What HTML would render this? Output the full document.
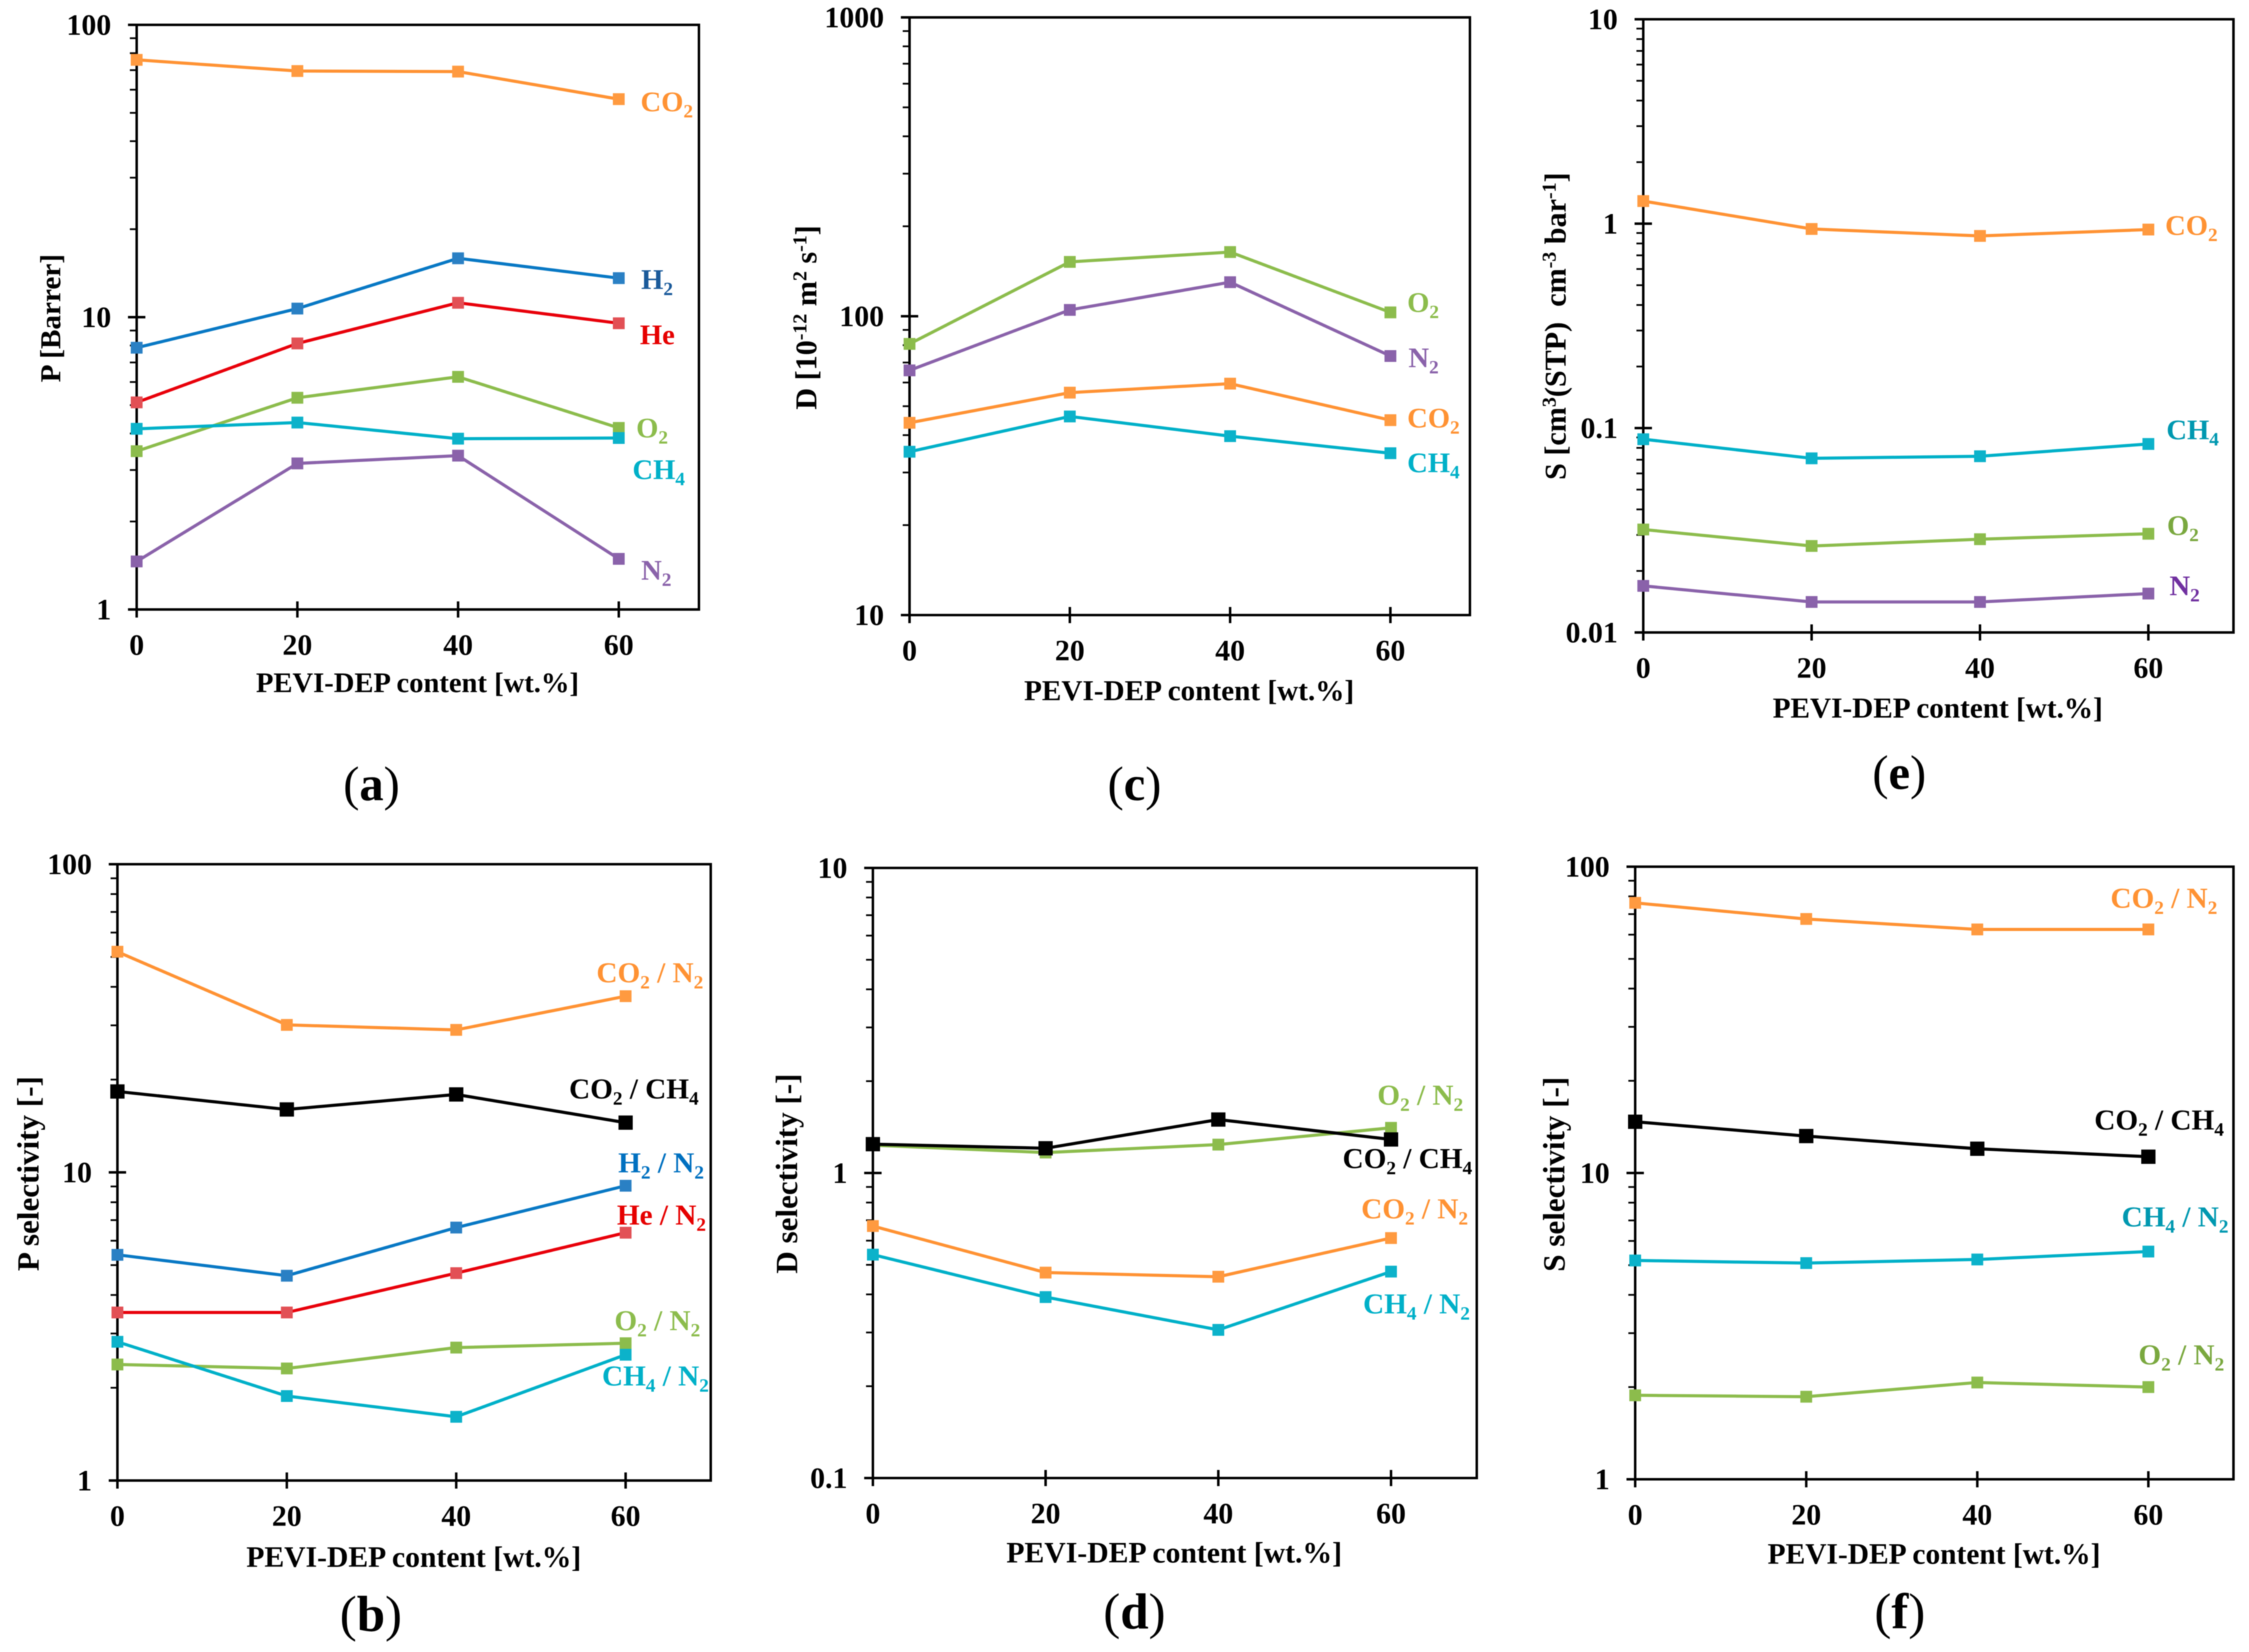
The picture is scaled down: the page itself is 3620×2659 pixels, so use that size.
<!DOCTYPE html>
<html lang="en">
<head>
<meta charset="utf-8">
<title>PEVI-DEP content: permeability, diffusivity and solubility</title>
<style>
html,body{margin:0;padding:0;background:#fff;}
#figure{display:block;width:3620px;height:2659px;filter:blur(0.7px);}
#figure text{font-family:"Liberation Serif","Noto Serif CJK SC",serif;font-weight:bold;}
.xt{font-size:47px;text-anchor:middle;fill:#000;}
.yt{font-size:48.5px;text-anchor:middle;fill:#000;}
.s{font-size:46px;}
.s2{font-size:47px;}
.s tspan.b,.s2 tspan.b{font-size:31px;}
.l{font-size:78px;text-anchor:middle;fill:#000;}
.l2{font-size:82px;text-anchor:middle;fill:#000;}
.l .p,.l2 .p{font-weight:normal;}
</style>
</head>
<body>
<svg id="figure" xmlns="http://www.w3.org/2000/svg" width="3620" height="2659" viewBox="0 0 3620 2659">
  <rect x="0" y="0" width="3620" height="2659" fill="#fff"/>

  <g id="panel-a">
    <text class="yt" style="font-size:47px" transform="translate(97,512) rotate(-90)">P [Barrer]</text>
    <text class="xt" style="font-size:46px" x="672" y="1114">PEVI-DEP content [wt.%]</text>
    <text class="s" x="1031" y="179" fill="#ff9233">CO<tspan class="b" dy="10">2</tspan></text>
    <text class="s" x="1032" y="465" fill="#1a5a9a">H<tspan class="b" dy="10">2</tspan></text>
    <text class="s" x="1030" y="554" fill="#e60000">He</text>
    <text class="s" x="1024" y="704" fill="#8cbc4c">O<tspan class="b" dy="10">2</tspan></text>
    <text class="s" x="1018" y="771" fill="#00b0c8">CH<tspan class="b" dy="10">4</tspan></text>
    <text class="s" x="1032" y="933" fill="#8a62aa">N<tspan class="b" dy="10">2</tspan></text>
    <text class="l" x="598" y="1288"><tspan class="p">(</tspan>a<tspan class="p">)</tspan></text>
  </g>

  <g id="panel-c">
    <text class="yt" transform="translate(1314,511) rotate(-90)">D [10<tspan font-size="32" dy="-16">-12</tspan><tspan dy="16"> m</tspan><tspan font-size="32" dy="-16">2</tspan><tspan dy="16"> s</tspan><tspan font-size="32" dy="-16">-1</tspan><tspan dy="16">]</tspan></text>
    <text class="xt" x="1914" y="1127">PEVI-DEP content [wt.%]</text>
    <text class="s" x="2265" y="502" fill="#8cbc4c">O<tspan class="b" dy="10">2</tspan></text>
    <text class="s" x="2267" y="591" fill="#8a62aa">N<tspan class="b" dy="10">2</tspan></text>
    <text class="s" x="2265" y="688" fill="#ff9233">CO<tspan class="b" dy="10">2</tspan></text>
    <text class="s" x="2265" y="760" fill="#00b0c8">CH<tspan class="b" dy="10">4</tspan></text>
    <text class="l" x="1826" y="1288"><tspan class="p">(</tspan>c<tspan class="p">)</tspan></text>
  </g>

  <g id="panel-e">
    <text class="yt" transform="translate(2520,525) rotate(-90)" xml:space="preserve">S [cm<tspan font-size="32" dy="-16">3</tspan><tspan dy="16">(STP)  cm</tspan><tspan font-size="32" dy="-16">-3</tspan><tspan dy="16"> bar</tspan><tspan font-size="32" dy="-16">-1</tspan><tspan dy="16">]</tspan></text>
    <text class="xt" x="3119" y="1155">PEVI-DEP content [wt.%]</text>
    <text class="s" x="3485" y="378" fill="#ff9233">CO<tspan class="b" dy="10">2</tspan></text>
    <text class="s" x="3487" y="707" fill="#0098b0">CH<tspan class="b" dy="10">4</tspan></text>
    <text class="s" x="3488" y="861" fill="#7aa83f">O<tspan class="b" dy="10">2</tspan></text>
    <text class="s" x="3492" y="958" fill="#7030a0">N<tspan class="b" dy="10">2</tspan></text>
    <text class="l" x="3057" y="1270"><tspan class="p">(</tspan>e<tspan class="p">)</tspan></text>
  </g>

  <g id="panel-b">
    <text class="yt" style="font-size:50px" transform="translate(62,1889) rotate(-90)">P selectivity [-]</text>
    <text class="xt" style="font-size:47.7px" x="666" y="2522">PEVI-DEP content [wt.%]</text>
    <text class="s2" x="960" y="1581" fill="#ff9233">CO<tspan class="b" dy="10">2</tspan><tspan dy="-10"> / N</tspan><tspan class="b" dy="10">2</tspan></text>
    <text class="s2" x="916" y="1768" fill="#000">CO<tspan class="b" dy="10">2</tspan><tspan dy="-10"> / CH</tspan><tspan class="b" dy="10">4</tspan></text>
    <text class="s2" x="995" y="1887" fill="#0070c0">H<tspan class="b" dy="10">2</tspan><tspan dy="-10"> / N</tspan><tspan class="b" dy="10">2</tspan></text>
    <text class="s2" x="993" y="1971" fill="#e60000">He / N<tspan class="b" dy="10">2</tspan></text>
    <text class="s2" x="989" y="2141" fill="#8cbc4c">O<tspan class="b" dy="10">2</tspan><tspan dy="-10"> / N</tspan><tspan class="b" dy="10">2</tspan></text>
    <text class="s2" x="969" y="2230" fill="#00b0c8">CH<tspan class="b" dy="10">4</tspan><tspan dy="-10"> / N</tspan><tspan class="b" dy="10">2</tspan></text>
    <text class="l2" x="597" y="2625"><tspan class="p">(</tspan>b<tspan class="p">)</tspan></text>
  </g>

  <g id="panel-d">
    <text class="yt" style="font-size:50px" transform="translate(1283,1889) rotate(-90)">D selectivity [-]</text>
    <text class="xt" style="font-size:47.8px" x="1890" y="2515">PEVI-DEP content [wt.%]</text>
    <text class="s2" x="2217" y="1778" fill="#8cbc4c">O<tspan class="b" dy="10">2</tspan><tspan dy="-10"> / N</tspan><tspan class="b" dy="10">2</tspan></text>
    <text class="s2" x="2161" y="1880" fill="#000">CO<tspan class="b" dy="10">2</tspan><tspan dy="-10"> / CH</tspan><tspan class="b" dy="10">4</tspan></text>
    <text class="s2" x="2191" y="1961" fill="#ff9233">CO<tspan class="b" dy="10">2</tspan><tspan dy="-10"> / N</tspan><tspan class="b" dy="10">2</tspan></text>
    <text class="s2" x="2194" y="2114" fill="#00b0c8">CH<tspan class="b" dy="10">4</tspan><tspan dy="-10"> / N</tspan><tspan class="b" dy="10">2</tspan></text>
    <text class="l2" x="1826" y="2621"><tspan class="p">(</tspan>d<tspan class="p">)</tspan></text>
  </g>

  <g id="panel-f">
    <text class="yt" style="font-size:50px" transform="translate(2518,1890) rotate(-90)">S selectivity [-]</text>
    <text class="xt" style="font-size:47.4px" x="3113" y="2517">PEVI-DEP content [wt.%]</text>
    <text class="s2" x="3397" y="1461" fill="#ff9233">CO<tspan class="b" dy="10">2</tspan><tspan dy="-10"> / N</tspan><tspan class="b" dy="10">2</tspan></text>
    <text class="s2" x="3371" y="1818" fill="#000">CO<tspan class="b" dy="10">2</tspan><tspan dy="-10"> / CH</tspan><tspan class="b" dy="10">4</tspan></text>
    <text class="s2" x="3415" y="1974" fill="#0098b0">CH<tspan class="b" dy="10">4</tspan><tspan dy="-10"> / N</tspan><tspan class="b" dy="10">2</tspan></text>
    <text class="s2" x="3442" y="2196" fill="#7aa83f">O<tspan class="b" dy="10">2</tspan><tspan dy="-10"> / N</tspan><tspan class="b" dy="10">2</tspan></text>
    <text class="l2" x="3058" y="2621"><tspan class="p">(</tspan>f<tspan class="p">)</tspan></text>
  </g>
</svg>

<script>
// Shared category axis
const categories = [0, 20, 40, 60];
const xTickLabels = ['0', '20', '40', '60'];

// Panel (a): permeability [Barrer]
const aYTicks = ['1', '10', '100'];
const aCO2 = [75.9, 69.5, 69.2, 55.7];
const aH2 = [7.86, 10.7, 15.9, 13.6];
const aHe = [5.11, 8.13, 11.2, 9.53];
const aO2 = [3.48, 5.3, 6.25, 4.18];
const aCH4 = [4.15, 4.36, 3.84, 3.86];
const aN2 = [1.46, 3.16, 3.36, 1.49];

// Panel (c): diffusivity
const cYTicks = ['10', '100', '1000'];
const cO2 = [80.8, 152, 164, 103];
const cN2 = [65.9, 105, 130, 73.6];
const cCO2 = [44, 55.5, 59.5, 44.9];
const cCH4 = [35.2, 46.2, 39.7, 34.8];

// Panel (e): solubility
const eYTicks = ['0.01', '0.1', '1', '10'];
const eCO2 = [1.29, 0.942, 0.871, 0.936];
const eCH4 = [0.0882, 0.0711, 0.0728, 0.0836];
const eO2 = [0.0319, 0.0265, 0.0286, 0.0304];
const eN2 = [0.0169, 0.0141, 0.0141, 0.0155];

// Panel (b): permeability selectivity
const bYTicks = ['1', '10', '100'];
const bCO2N2 = [52, 30.1, 29, 37.3];
const bCO2CH4 = [18.3, 16, 17.9, 14.5];
const bH2N2 = [5.4, 4.62, 6.62, 9.05];
const bHeN2 = [3.51, 3.51, 4.71, 6.37];
const bO2N2 = [2.38, 2.31, 2.7, 2.79];
const bCH4N2 = [2.82, 1.88, 1.61, 2.56];

// Panel (d): diffusivity selectivity
const dYTicks = ['0.1', '1', '10'];
const dO2N2 = [1.233, 1.167, 1.239, 1.406];
const dCO2CH4 = [1.243, 1.205, 1.497, 1.288];
const dCO2N2 = [0.67, 0.4715, 0.457, 0.612];
const dCH4N2 = [0.54, 0.392, 0.306, 0.475];

// Panel (f): solubility selectivity
const fYTicks = ['1', '10', '100'];
const fCO2N2 = [76.2, 67.5, 62.4, 62.4];
const fCO2CH4 = [14.7, 13.2, 12.0, 11.3];
const fCH4N2 = [5.18, 5.08, 5.22, 5.54];
const fO2N2 = [1.88, 1.86, 2.07, 2.0];

const ORANGE = { line: '#ff9233', mark: '#ff9a40' };
const BLUE = { line: '#0878c4', mark: '#2a80c4' };
const RED = { line: '#e8000a', mark: '#e25055' };
const GREEN = { line: '#8cbc4c', mark: '#8cbc4c' };
const CYAN = { line: '#00b0c8', mark: '#0cb2ca' };
const PURPLE = { line: '#8a62aa', mark: '#8a62aa' };
const BLACK = { line: '#000', mark: '#000' };

const panels = [
  { id: 'panel-a', x0: 220, x60: 996, right: 1125, top: 40, bottom: 981, yTicks: aYTicks, series: [
    ['co2', aCO2, ORANGE], ['h2', aH2, BLUE], ['he', aHe, RED], ['o2', aO2, GREEN], ['ch4', aCH4, CYAN], ['n2', aN2, PURPLE]] },
  { id: 'panel-c', x0: 1464, x60: 2238, right: 2366, top: 28, bottom: 990, yTicks: cYTicks, series: [
    ['o2', cO2, GREEN], ['n2', cN2, PURPLE], ['co2', cCO2, ORANGE], ['ch4', cCH4, CYAN]] },
  { id: 'panel-e', x0: 2645, x60: 3458, right: 3595, top: 31, bottom: 1018, yTicks: eYTicks, series: [
    ['co2', eCO2, ORANGE], ['ch4', eCH4, CYAN], ['o2', eO2, GREEN], ['n2', eN2, PURPLE]] },
  { id: 'panel-b', x0: 189, x60: 1007, right: 1144, top: 1391, bottom: 2383, yTicks: bYTicks, series: [
    ['co2-n2', bCO2N2, ORANGE], ['co2-ch4', bCO2CH4, BLACK], ['h2-n2', bH2N2, BLUE], ['he-n2', bHeN2, RED], ['o2-n2', bO2N2, GREEN], ['ch4-n2', bCH4N2, CYAN]] },
  { id: 'panel-d', x0: 1405, x60: 2239, right: 2377, top: 1397, bottom: 2379, yTicks: dYTicks, series: [
    ['o2-n2', dO2N2, GREEN], ['co2-ch4', dCO2CH4, BLACK], ['co2-n2', dCO2N2, ORANGE], ['ch4-n2', dCH4N2, CYAN]] },
  { id: 'panel-f', x0: 2632, x60: 3458, right: 3595, top: 1395, bottom: 2381, yTicks: fYTicks, series: [
    ['co2-n2', fCO2N2, ORANGE], ['co2-ch4', fCO2CH4, BLACK], ['ch4-n2', fCH4N2, CYAN], ['o2-n2', fO2N2, GREEN]] }
];

const SVGNS = 'http://www.w3.org/2000/svg';

function make(tag, parent, attrs) {
  const node = document.createElementNS(SVGNS, tag);
  for (const key in attrs) node.setAttribute(key, attrs[key]);
  parent.appendChild(node);
  return node;
}

function drawPanel(p) {
  const g = document.getElementById(p.id);
  const lo = Math.log10(parseFloat(p.yTicks[0]));
  const hi = Math.log10(parseFloat(p.yTicks[p.yTicks.length - 1]));
  const xScale = v => p.x0 + (v - categories[0]) / (categories[categories.length - 1] - categories[0]) * (p.x60 - p.x0);
  const yScale = v => p.bottom - (Math.log10(v) - lo) / (hi - lo) * (p.bottom - p.top);
  const AXIS = { stroke: '#000', 'stroke-width': 4, fill: 'none' };

  const frame = make('rect', g, Object.assign({ x: p.x0, y: p.top, width: p.right - p.x0, height: p.bottom - p.top }, AXIS));
  
  

  // y axis: major ticks, minor ticks, labels
  p.yTicks.forEach((label, i) => {
    const value = parseFloat(label);
    const y = yScale(value);
    const interior = i > 0 && i < p.yTicks.length - 1;
    const tick = make('line', g, Object.assign({ x1: p.x0 - 14, x2: interior ? p.x0 + 14 : p.x0, y1: y, y2: y }, AXIS));
    
    
    const text = make('text', g, { x: p.x0 - 41, y: y + 16, 'text-anchor': 'end', 'font-size': 48, fill: '#000' });
    text.textContent = label;
    
    
    if (i < p.yTicks.length - 1) {
      for (let m = 2; m <= 9; m++) {
        const my = yScale(value * m);
        const minor = make('line', g, Object.assign({ x1: p.x0 - 11, x2: p.x0, y1: my, y2: my }, AXIS, { 'stroke-width': 2.8 }));
        
        
      }
    }
  });

  // x axis: ticks and labels
  categories.forEach((c, i) => {
    const x = xScale(c);
    const tick = make('line', g, Object.assign({ x1: x, x2: x, y1: i === 0 ? p.bottom : p.bottom - 13, y2: p.bottom + 13 }, AXIS));
    
    
    const text = make('text', g, { x: x, y: p.bottom + 73, 'text-anchor': 'middle', 'font-size': 48, fill: '#000' });
    text.textContent = xTickLabels[i];
    
    
  });

  // series
  p.series.forEach(s => {
    const key = s[0], values = s[1], col = s[2];
    const size = col === BLACK ? 23 : 19;
    const pts = values.map((v, i) => xScale(categories[i]).toFixed(1) + ',' + yScale(v).toFixed(1)).join(' ');
    const line = make('polyline', g, { points: pts, fill: 'none', stroke: col.line, 'stroke-width': 5, 'stroke-linejoin': 'round' });
    
    
    values.forEach((v, i) => {
      const mark = make('rect', g, { x: xScale(categories[i]) - size / 2, y: yScale(v) - size / 2, width: size, height: size, fill: col.mark });
      
      
    });
  });
}

panels.forEach(drawPanel);
</script>
</body>
</html>
